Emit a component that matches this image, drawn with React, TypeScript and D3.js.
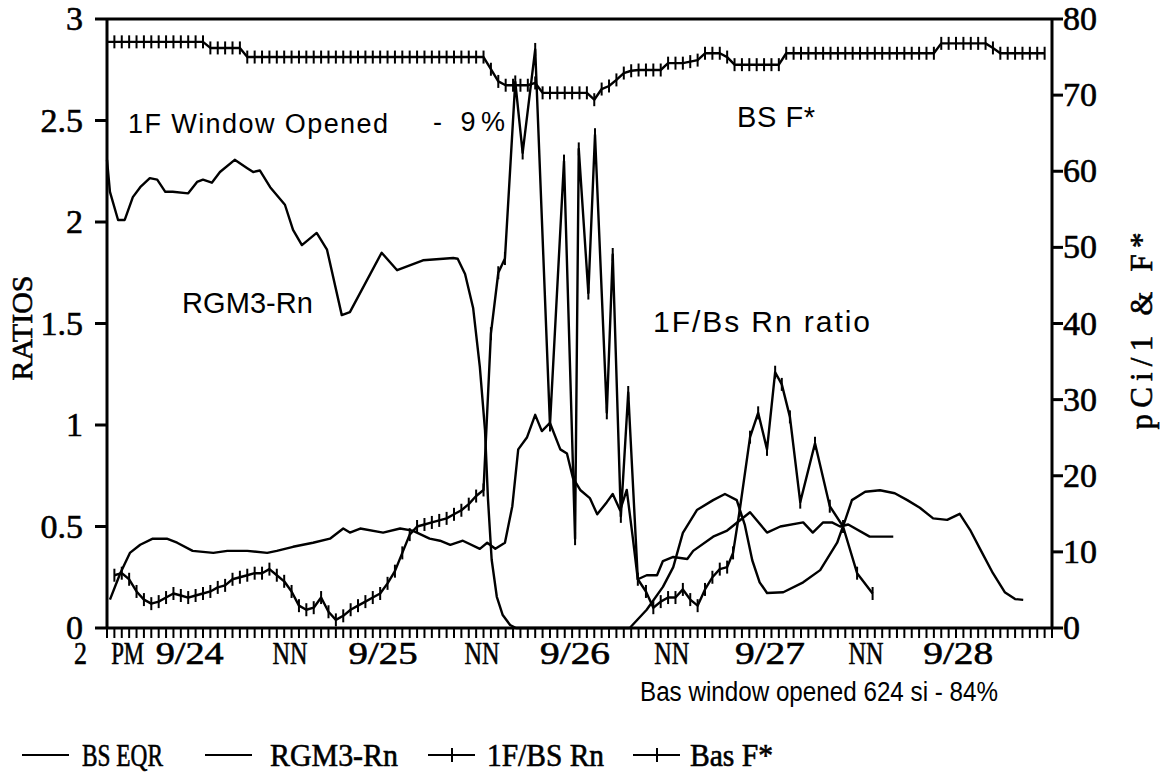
import * as d3 from 'd3'

// x is counted in readings (one axis tick per reading), left: ratios, right: pCi/l & F*
const readingCount = 128

const xLabelText = ['2', 'PM', '9/24', 'NN', '9/25', 'NN', '9/26', 'NN', '9/27', 'NN', '9/28']
const xLabelPos = [-3.6, 2.8, 11.2, 24.8, 37.4, 50.8, 63.4, 76.5, 89.8, 102.8, 115.3]
const xLabelWidth = [13, 33, 68, 35, 69, 35, 70, 35, 70, 35, 70]

const ratioTicks = [0, 0.5, 1, 1.5, 2, 2.5, 3]
const pciTicks = [0, 10, 20, 30, 40, 50, 60, 70, 80]

// BS EQR (ratio, left axis)
const bsEqrIdx = [0.4, 1.8, 3.1, 4.5, 6.2, 8.1, 9.5, 11.6, 14.4, 16.3, 19.0, 21.7, 23.0, 25.2, 27.9, 30.2, 32.0, 32.9, 34.3, 37.4,
  39.7, 41.4, 43.7, 45.1, 46.5, 48.2, 50.5, 51.5, 52.6, 53.9, 54.9, 55.7, 56.9, 58.0, 58.9, 60.0, 61.4, 62.3, 63.1, 64.1,
  65.4, 66.4, 67.7, 68.5, 69.5, 70.4, 71.2, 71.9, 73.1, 74.5, 75.3, 76.7, 78.6, 79.4, 82.1, 84.0, 87.1, 89.4, 91.2, 94.3,
  95.6, 97.0, 98.2, 99.3, 100.4, 103.3, 106.5]
const bsEqrVal = [0.14, 0.27, 0.37, 0.41, 0.44, 0.44, 0.42, 0.38, 0.37, 0.38, 0.38, 0.37, 0.38, 0.4, 0.42, 0.44, 0.49, 0.47, 0.49, 0.47,
  0.49, 0.48, 0.44, 0.43, 0.41, 0.43, 0.39, 0.42, 0.39, 0.42, 0.6, 0.88, 0.94, 1.05, 0.97, 1.01, 0.88, 0.86, 0.74, 0.68,
  0.64, 0.56, 0.62, 0.66, 0.58, 0.68, 0.45, 0.24, 0.26, 0.26, 0.33, 0.35, 0.34, 0.38, 0.45, 0.48, 0.57, 0.47, 0.5, 0.52,
  0.47, 0.52, 0.52, 0.5, 0.51, 0.45, 0.45]

// RGM3-Rn (pCi/l, right axis)
const rgmIdx = [0, 0.4, 1.5, 2.4, 3.5, 4.5, 5.8, 6.8, 7.9, 8.9, 11.0, 12.2, 13.0, 14.2, 15.3, 17.3, 19.0, 19.8, 20.7, 22.1,
  24.1, 25.2, 26.4, 28.4, 29.8, 31.8, 32.9, 37.2, 39.3, 42.8, 46.9, 47.5, 48.5, 49.6, 50.5, 51.2, 51.6, 52.1, 52.8, 53.6,
  54.6, 55.4, 70.8, 73.1, 75.3, 76.7, 78.0, 79.9, 82.1, 83.7, 85.3, 86.4, 87.4, 88.4, 89.4, 91.6, 94.3, 96.6, 98.9, 100.0,
  100.9, 102.7, 104.7, 106.7, 108.4, 110.1, 111.9, 113.8, 115.5, 116.9, 118.2, 120.0, 121.6, 123.0, 124.1]
const rgmVal = [61.5, 57.3, 53.6, 53.6, 56.6, 57.9, 59.1, 58.9, 57.3, 57.3, 57.1, 58.6, 58.9, 58.5, 59.9, 61.5, 60.4, 59.9, 60.1, 57.9,
  55.6, 52.3, 50.3, 51.9, 49.7, 41.1, 41.5, 49.3, 47.0, 48.3, 48.6, 48.5, 46.5, 42, 34.3, 26, 17, 9, 4.1, 1.7,
  0.4, 0, 0, 2.4, 5.4, 8.0, 12.5, 15.5, 16.8, 17.6, 16.8, 13.5, 8.9, 6.0, 4.6, 4.7, 6.0, 7.6, 11.2, 14.2,
  16.8, 17.9, 18.1, 17.7, 16.8, 15.8, 14.4, 14.2, 15.0, 12.9, 10.5, 7.2, 4.7, 3.8, 3.7]

// 1F/BS Rn (ratio, left axis)
const ratioIdx = [1, 2, 3, 4, 5, 6, 7, 8, 9, 10, 11, 12, 13, 14, 15, 16, 17, 18, 19, 20,
  21, 22, 23, 24, 25, 26, 27, 28, 29, 30, 31, 32, 33, 34, 35, 36, 37, 38, 39, 40,
  41, 42, 43, 44, 45, 46, 47, 48, 49, 50, 51,
  52, 53, 53.9, 55.3, 56.3, 58, 60, 61.9, 63.4, 63.9, 65.2, 66.1, 67.7, 68.5, 69.6, 70.6, 71.9,
  73, 74, 75, 76, 77, 78, 79, 80, 81, 82, 83, 84,
  84.8, 85.7, 87.1, 88.2, 89.4, 90.5, 91.4, 92.5, 93.9, 95.9, 97.9, 99.7, 101.6, 103.7]
const ratioVal = [0.26, 0.27, 0.24, 0.18, 0.14, 0.12, 0.13, 0.15, 0.17, 0.16, 0.15, 0.16, 0.17, 0.18, 0.2, 0.21, 0.24, 0.25, 0.26, 0.27,
  0.27, 0.29, 0.26, 0.23, 0.18, 0.11, 0.09, 0.1, 0.15, 0.08, 0.04, 0.06, 0.09, 0.11, 0.13, 0.15, 0.17, 0.22, 0.28, 0.37,
  0.46, 0.5, 0.51, 0.52, 0.53, 0.54, 0.56, 0.58, 0.61, 0.65, 0.68,
  1.45, 1.75, 1.82, 2.69, 2.34, 2.85, 1.0, 2.3, 0.44, 2.36, 1.65, 2.43, 1.06, 1.84, 0.55, 1.16, 0.24,
  0.18, 0.1, 0.13, 0.15, 0.15, 0.19, 0.14, 0.11, 0.19, 0.25, 0.29, 0.3,
  0.37, 0.58, 0.94, 1.06, 0.88, 1.26, 1.2, 1.04, 0.62, 0.91, 0.6, 0.5, 0.27, 0.17]

// Bas F* (right axis), one value per reading 0..127
const basF = [77.0, 77.0, 77.0, 77.0, 77.0, 77.0, 77.0, 77.0, 77.0, 77.0, 77.0, 77.0, 77.0, 77.0,
  76.2, 76.2, 76.2, 76.2, 76.2,
  75.0, 75.0, 75.0, 75.0, 75.0, 75.0, 75.0, 75.0, 75.0, 75.0, 75.0, 75.0, 75.0, 75.0, 75.0, 75.0, 75.0,
  75.0, 75.0, 75.0, 75.0, 75.0, 75.0, 75.0, 75.0, 75.0, 75.0, 75.0, 75.0, 75.0, 75.0, 75.0, 75.0,
  73.4, 71.8, 71.3, 71.3, 71.3, 71.3, 71.6,
  70.3, 70.3, 70.3, 70.3, 70.3, 70.3, 70.3, 69.4, 70.8, 71.2, 72.0, 72.9, 73.2,
  73.3, 73.3, 73.3, 73.3, 74.2, 74.2, 74.2, 74.4, 74.6, 75.5, 75.5, 75.5, 75.0,
  74.0, 74.0, 74.0, 74.0, 74.0, 74.0, 74.0,
  75.5, 75.5, 75.5, 75.5, 75.5, 75.5, 75.5, 75.5, 75.5, 75.5, 75.5, 75.5, 75.5, 75.5, 75.5, 75.5, 75.5, 75.5, 75.5, 75.5, 75.5,
  76.8, 76.8, 76.8, 76.8, 76.8, 76.8, 76.8, 76.2,
  75.5, 75.5, 75.5, 75.5, 75.5, 75.5, 75.5]

const legendLabels = ['BS EQR', 'RGM3-Rn', '1F/BS Rn', 'Bas F*']

const SERIF = '"Liberation Serif", "DejaVu Serif", serif'
const SANS = '"Liberation Sans", Arial, sans-serif'

const zip = (a: number[], b: number[]) => a.map((v, i) => [v, b[i]] as [number, number])

export default function App() {
  const left = 107, right = 1052, top = 19, bottom = 628
  const x = d3.scaleLinear().domain([0, readingCount]).range([left, right])
  const yL = d3.scaleLinear().domain([0, 3]).range([bottom, top])
  const yR = d3.scaleLinear().domain([0, 80]).range([bottom, top])

  const lineL = d3.line<[number, number]>().x(d => x(d[0])).y(d => yL(d[1]))
  const lineR = d3.line<[number, number]>().x(d => x(d[0])).y(d => yR(d[1]))

  const bsEqr = zip(bsEqrIdx, bsEqrVal)
  const rgm = zip(rgmIdx, rgmVal)
  const ratio = zip(ratioIdx, ratioVal)
  const bas = basF.map((v, i) => [i, v] as [number, number])

  const ink = '#000'
  const lw = 2.4

  const crosses = (pts: [number, number][], y: d3.ScaleLinear<number, number>, key: string) =>
    pts.map((d, i) => (
      <line key={key + i} x1={x(d[0])} x2={x(d[0])} y1={y(d[1]) - 6.5} y2={y(d[1]) + 6.5} stroke={ink} strokeWidth={2} />
    ))

  const legendX = [22, 205, 428, 633]
  const legendTextX = [82, 270, 487, 690]
  const legendTextW = [81, 128, 117, 83]

  // serif labels of the scan look heavy, so give them a thin outline
  const heavy = { stroke: ink, strokeWidth: 0.6 }

  return (
    <svg width={1169} height={782} style={{ position: 'absolute', left: 0, top: 0, background: '#fff' }}>
      <rect width={1169} height={782} fill="#fff" />

      {/* frame */}
      <g stroke={ink} strokeWidth={3} fill="none">
        <line x1={left} x2={right} y1={top} y2={top} />
        <line x1={left} x2={left} y1={top} y2={bottom} />
        <line x1={right} x2={right} y1={top} y2={bottom} />
        <line x1={left} x2={right} y1={bottom} y2={bottom} />
      </g>

      {/* x minor ticks */}
      {d3.range(0, readingCount + 1).map(i => (
        <line key={'xt' + i} x1={x(i)} x2={x(i)} y1={bottom} y2={bottom + 10} stroke={ink} strokeWidth={2} />
      ))}
      {xLabelText.map((t, i) => (
        <text key={'xl' + i} x={x(xLabelPos[i])} y={664} textAnchor="middle" fontFamily={SERIF} fontSize={32}
          textLength={xLabelWidth[i]} lengthAdjust="spacingAndGlyphs" {...heavy}>{t}</text>
      ))}

      {/* left axis */}
      {ratioTicks.map(t => (
        <g key={'yl' + t}>
          <line x1={left - 12} x2={left} y1={yL(t)} y2={yL(t)} stroke={ink} strokeWidth={3} />
          <text x={83} y={yL(t) + 11} textAnchor="end" fontFamily={SERIF} fontSize={34} {...heavy}>{t}</text>
        </g>
      ))}
      <text transform="translate(32,328) rotate(-90)" textAnchor="middle" fontFamily={SERIF} fontSize={30} {...heavy}>RATIOS</text>

      {/* right axis */}
      {pciTicks.map(t => (
        <g key={'yr' + t}>
          <line x1={right} x2={right + 11} y1={yR(t)} y2={yR(t)} stroke={ink} strokeWidth={3} />
          <text x={1063} y={yR(t) + 11} textAnchor="start" fontFamily={SERIF} fontSize={34} {...heavy}>{t}</text>
        </g>
      ))}
      <text transform="translate(1152,331) rotate(-90)" textAnchor="middle" fontFamily={SERIF} fontSize={31}
        textLength={197} lengthAdjust="spacing" {...heavy}>pCi/1  &amp;  F*</text>

      {/* series */}
      <g fill="none" stroke={ink} strokeWidth={lw} strokeLinejoin="round">
        <path d={lineR(rgm) ?? ''} />
        <path d={lineL(bsEqr) ?? ''} />
        <path d={lineL(ratio) ?? ''} />
        <path d={lineR(bas) ?? ''} />
      </g>
      {crosses(ratio, yL, 'cr')}
      {crosses(bas, yR, 'cb')}

      {/* annotations */}
      <g fontFamily={SANS} fill={ink}>
        <text x={128} y={133} fontSize={27} textLength={260} lengthAdjust="spacing">1F Window Opened</text>
        <text x={433} y={131} fontSize={27} textLength={72} lengthAdjust="spacing">- 9%</text>
        <text x={737} y={127} fontSize={29} textLength={78} lengthAdjust="spacing">BS F*</text>
        <text x={182} y={313} fontSize={29} textLength={131} lengthAdjust="spacing">RGM3-Rn</text>
        <text x={653} y={332} fontSize={30} textLength={217} lengthAdjust="spacing">1F/Bs Rn ratio</text>
        <text x={640} y={701} fontSize={27} textLength={358} lengthAdjust="spacingAndGlyphs">Bas window opened 624 si  - 84%</text>
      </g>

      {/* legend */}
      {legendLabels.map((t, i) => (
        <g key={'lg' + i}>
          <line x1={legendX[i]} x2={legendX[i] + 47} y1={755} y2={755} stroke={ink} strokeWidth={2} />
          {i >= 2 && (
            <line x1={legendX[i] + 24} x2={legendX[i] + 24} y1={748} y2={762} stroke={ink} strokeWidth={2} />
          )}
          <text x={legendTextX[i]} y={766} fontFamily={SERIF} fontSize={31}
            textLength={legendTextW[i]} lengthAdjust="spacingAndGlyphs" {...heavy}>{t}</text>
        </g>
      ))}
    </svg>
  )
}
